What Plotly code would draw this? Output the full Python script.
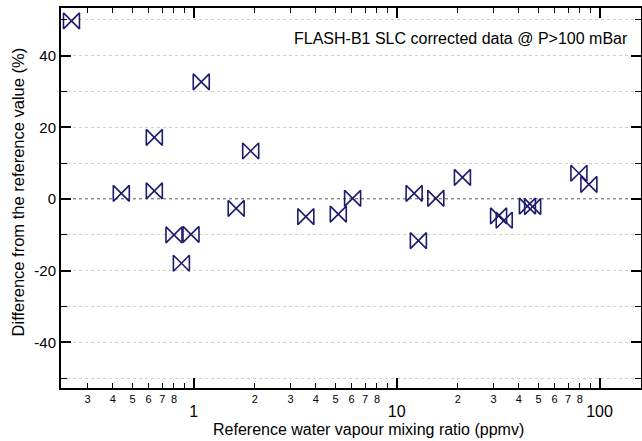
import math
import plotly.graph_objects as go

# Data
ref_ppmv = [0.25, 0.44, 0.64, 0.64, 0.80, 0.97, 0.87, 1.09, 1.62, 1.91,
            3.57, 5.16, 6.07, 12.2, 12.8, 15.6, 21.1, 31.8, 33.9, 44.1,
            46.8, 79.1, 88.6]
diff_pct = [49.7, 1.6, 2.3, 17.2, -10.0, -9.85, -17.9, 32.7, -2.6, 13.4,
            -4.9, -4.2, 0.2, 1.6, -11.6, 0.2, 6.05, -4.7, -5.9, -1.95,
            -2.1, 7.2, 4.1]

minor_vals = [0.3, 0.4, 0.5, 0.6, 0.7, 0.8, 0.9,
              2, 3, 4, 5, 6, 7, 8, 9,
              20, 30, 40, 50, 60, 70, 80, 90]
minor_text = ["3", "4", "5", "6", "7", "8", "",
              "2", "3", "4", "5", "6", "7", "8", "",
              "2", "3", "4", "5", "6", "7", "8", ""]
decade_vals = [1, 10, 100]
decade_text = ["1", "10", "100"]
y_major = [-40, -20, 0, 20, 40]
y_major_text = ["-40", "-20", "0", "20", "40"]

x_range = [0.222, 160]
y_range = [-52.7, 53.3]

FONT = "Arial, Liberation Sans, sans-serif"
NAVY = "rgb(28,28,108)"
GRID = "#cfcfcf"

fig = go.Figure()
fig.add_trace(go.Scatter(
    x=ref_ppmv, y=diff_pct, mode="markers",
    marker=dict(symbol="bowtie-open", size=16, color=NAVY,
                line=dict(color=NAVY, width=1.6)),
    showlegend=False, cliponaxis=False,
))
# invisible companion so the decade overlay axis is drawn
fig.add_trace(go.Scatter(
    x=ref_ppmv, y=diff_pct, mode="markers", xaxis="x2",
    marker=dict(opacity=0), showlegend=False, hoverinfo="skip",
))

log_range = [math.log10(x_range[0]), math.log10(x_range[1])]

fig.update_layout(
    width=642, height=441,
    margin=dict(l=61, r=1, t=8, b=53, autoexpand=False),
    paper_bgcolor="white", plot_bgcolor="white",
    font=dict(family=FONT, color="black"),
    xaxis=dict(
        type="log", range=log_range, automargin=False,
        tickmode="array", tickvals=minor_vals, ticktext=minor_text,
        ticks="inside", ticklen=5, tickwidth=1, tickcolor="black",
        tickfont=dict(size=11, family=FONT),
        showgrid=False, zeroline=False,
        showline=True, linecolor="black", linewidth=2, mirror="ticks",
    ),
    xaxis2=dict(
        type="log", range=log_range, overlaying="x", side="bottom",
        automargin=False,
        tickmode="array", tickvals=decade_vals, ticktext=decade_text,
        ticks="inside", ticklen=10, tickwidth=1.5, tickcolor="black",
        tickfont=dict(size=16, family=FONT), ticklabelstandoff=12,
        showgrid=False, zeroline=False, showline=False, mirror="ticks",
    ),
    yaxis=dict(
        range=y_range, automargin=False,
        tickmode="array", tickvals=y_major, ticktext=y_major_text,
        ticks="inside", ticklen=10, tickwidth=1.5, tickcolor="black",
        tickfont=dict(size=15, family=FONT),
        showgrid=True, gridcolor=GRID, griddash="dot", gridwidth=1,
        zeroline=False,
        showline=True, linecolor="black", linewidth=2, mirror="ticks",
        minor=dict(dtick=10, tick0=0, ticks="inside", ticklen=6,
                   tickcolor="black", tickwidth=1,
                   showgrid=True, gridcolor=GRID, griddash="dot",
                   gridwidth=1),
    ),
    shapes=[dict(type="line", xref="paper", x0=0, x1=1, yref="y", y0=0, y1=0,
                 line=dict(color="#111111", width=1.4, dash="dot"), layer="below")],
    annotations=[
        dict(text="FLASH-B1 SLC corrected data @ P>100 mBar",
             xref="paper", yref="paper", x=(630 - 61) / 580, y=0.92,
             xanchor="right", yanchor="middle", showarrow=False,
             font=dict(size=16, family=FONT)),
        dict(text="Reference water vapour mixing ratio (ppmv)",
             xref="paper", yref="paper", x=(368 - 61) / 580, y=-0.11,
             xanchor="center", yanchor="middle", showarrow=False,
             font=dict(size=16, family=FONT)),
        dict(text="Difference from the reference value (%)",
             xref="paper", yref="paper", x=-0.074, y=0.515, textangle=-90,
             xanchor="center", yanchor="middle", showarrow=False,
             font=dict(size=16.5, family=FONT)),
    ],
)

fig.write_html("out.html",
               config={"displayModeBar": False},
               post_script="document.body.style.margin='0';document.body.style.overflow='hidden';")
